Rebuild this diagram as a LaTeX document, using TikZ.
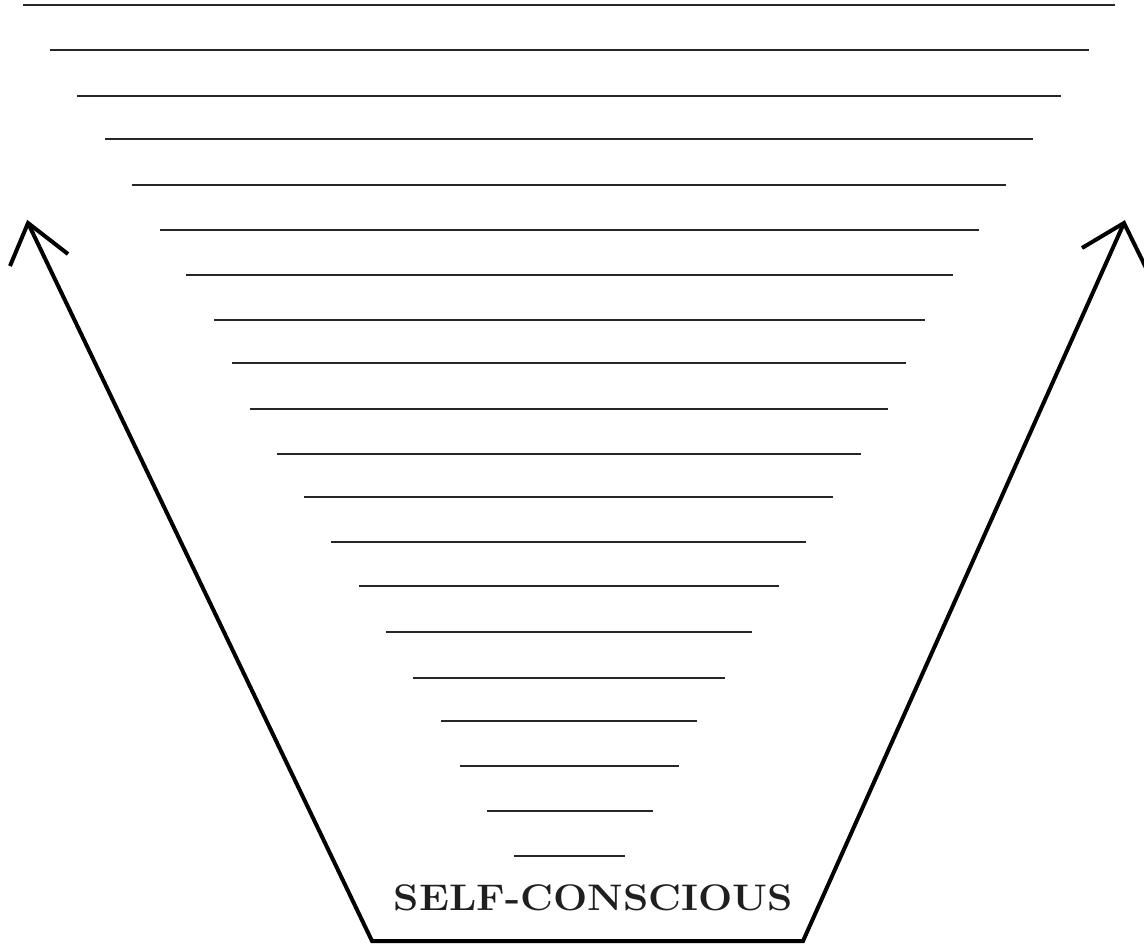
\documentclass[tikz,border=0pt]{standalone}
\begin{document}
\begin{tikzpicture}[x=1pt,y=-1pt,
  blank/.style={line width=1.9pt, black!85},
  vline/.style={line width=4pt, line join=miter, line cap=butt}]
\useasboundingbox (0,0) rectangle (1144,945);
\foreach \y/\a/\b in {5/23/1115, 50/50/1089, 96/77/1061, 139/105/1033, 185/132/1006,
  230/160/979, 275/186/953, 320/214/925, 363/232/906, 409/250/888, 454/277/861,
  497/304/833, 542/331/806, 586/359/779, 632/386/752, 678/413/725, 721/441/697,
  766/460/679, 811/487/653, 856/514/625}
  \draw[blank] (\a,\y) -- (\b,\y);
\coordinate (bl) at (372,941);
\coordinate (br) at (803,941);
\coordinate (tl) at (28,223);
\coordinate (tr) at (1124,223);
\coordinate (tla) at (10,266);
\coordinate (tlb) at (68,254);
\coordinate (tra) at (1082,248);
\coordinate (trb) at (1148,272);
\draw[vline] (tl) -- (bl) -- (br) -- (tr);
\draw[vline] (tla) -- (tl) -- (tlb);
\draw[vline] (tra) -- (tr) -- (trb);
\node[anchor=base, inner sep=0pt, font=\fontsize{37}{42}\selectfont\bfseries, text=black!88] (label) at (593.5,910) {\scalebox{1.095}[1]{SELF-CONSCIOUS}};
\end{tikzpicture}
\end{document}
